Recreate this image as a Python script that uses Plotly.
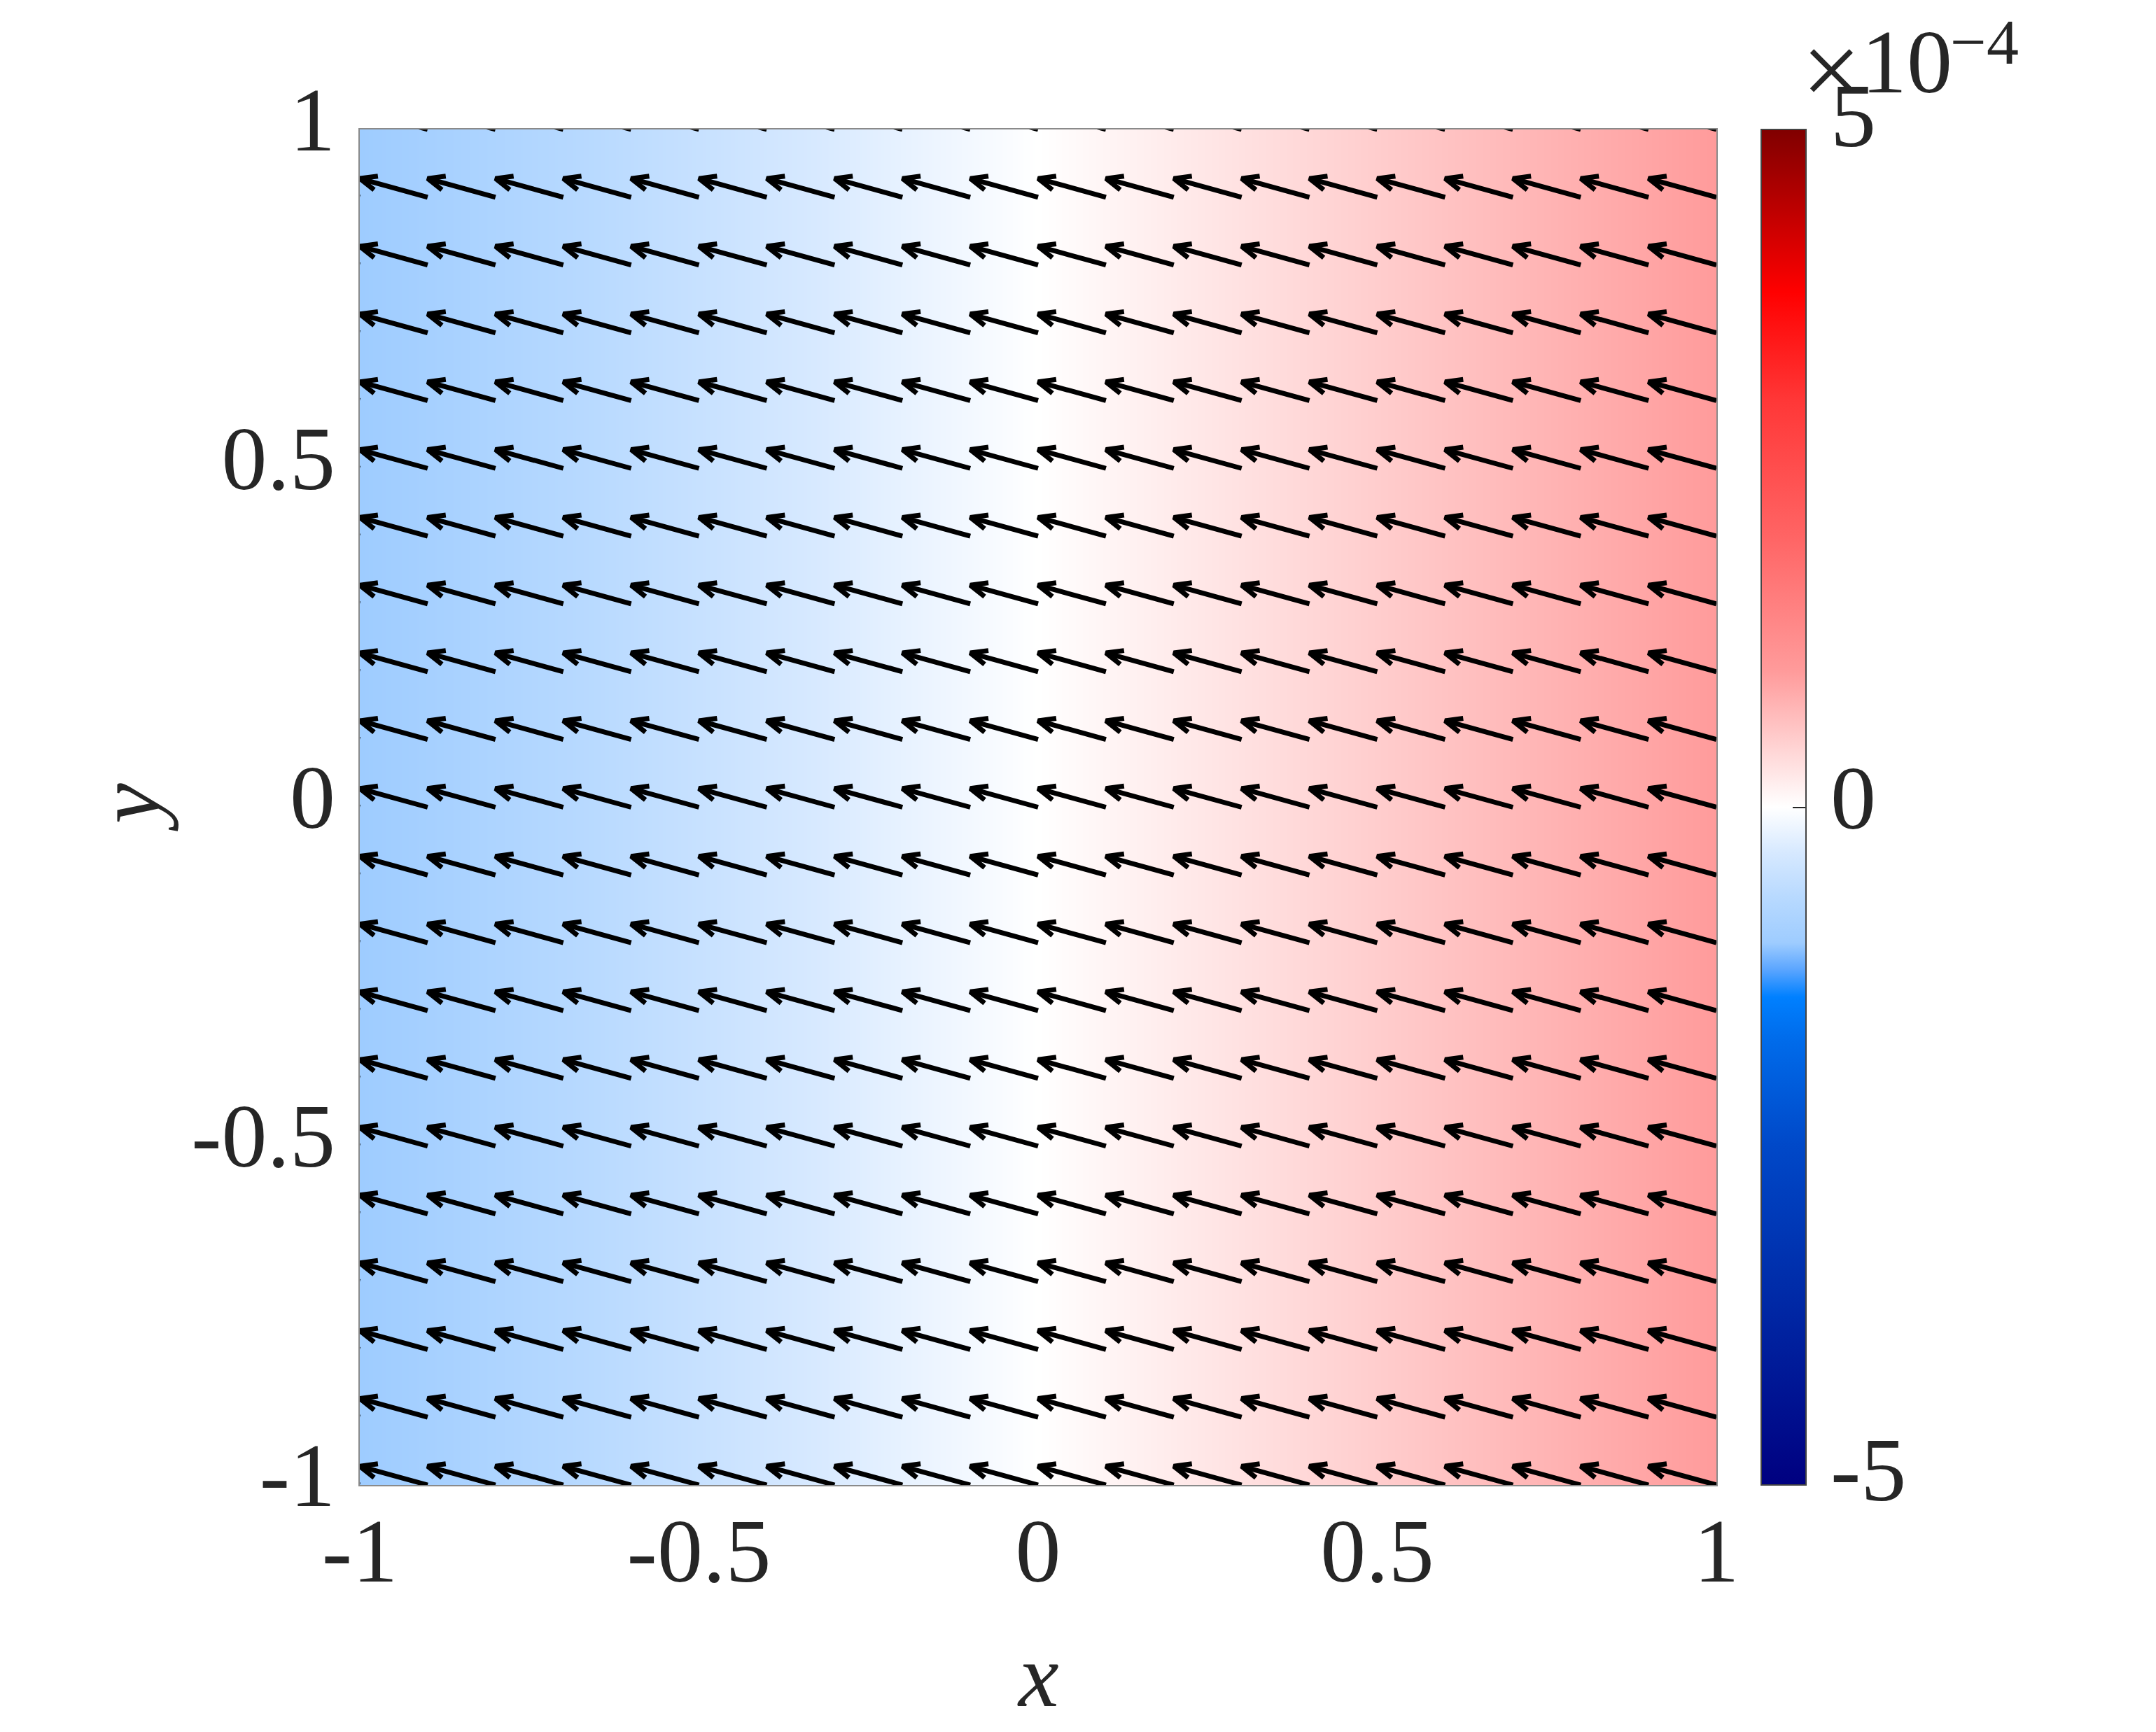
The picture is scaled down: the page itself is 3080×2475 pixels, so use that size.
import math
import plotly.graph_objects as go

# grid of the field / arrows
x_vals = [-1.0, -0.9, -0.8, -0.7, -0.6, -0.5, -0.4, -0.3, -0.2, -0.1, 0.0,
          0.1, 0.2, 0.3, 0.4, 0.5, 0.6, 0.7, 0.8, 0.9, 1.0]
y_vals = [-1.0, -0.9, -0.8, -0.7, -0.6, -0.5, -0.4, -0.3, -0.2, -0.1, 0.0,
          0.1, 0.2, 0.3, 0.4, 0.5, 0.6, 0.7, 0.8, 0.9, 1.0]

# background field along x (units 1e-4), same for every row
z_row = [-1.0, -0.9, -0.8, -0.7, -0.6, -0.5, -0.4, -0.3, -0.2, -0.1, 0.0,
         0.1, 0.2, 0.3, 0.4, 0.5, 0.6, 0.7, 0.8, 0.9, 1.0]

# arrow displacement (already scaled as drawn)
arrow_u = -0.100
arrow_v = 0.0276

cbar_ticks = [-5, 0, 5]
cbar_labels = ["-5", "0", "5"]

cscale = [
    [0.00, "rgb(0,0,128)"],
    [0.15, "rgb(0,45,170)"],
    [0.25, "rgb(0,72,200)"],
    [0.33, "rgb(0,108,235)"],
    [0.36, "rgb(0,128,255)"],
    [0.38, "rgb(90,165,255)"],
    [0.40, "rgb(158,204,255)"],
    [0.435, "rgb(185,218,255)"],
    [0.467, "rgb(215,233,255)"],
    [0.50, "rgb(255,255,255)"],
    [0.55, "rgb(255,205,205)"],
    [0.60, "rgb(255,155,155)"],
    [0.70, "rgb(255,100,100)"],
    [0.80, "rgb(255,55,55)"],
    [0.88, "rgb(255,0,0)"],
    [0.94, "rgb(190,0,0)"],
    [1.00, "rgb(128,0,0)"],
]

FONT = "Liberation Serif"
TXT = "#262626"
FS = 130

z = [[v * 1e-4 for v in z_row] for _ in y_vals]

fig = go.Figure()
fig.add_trace(go.Heatmap(
    x=x_vals, y=y_vals, z=z, zsmooth="best",
    zmin=-5e-4, zmax=5e-4, colorscale=cscale,
    colorbar=dict(
        x=1.033, xanchor="left", xpad=0, y=0.5, yanchor="middle", ypad=0,
        len=1, thickness=64, outlinewidth=2, outlinecolor="#444444",
        tickvals=[t * 1e-4 for t in cbar_ticks], showticklabels=False,
        ticks="inside", ticklen=20, tickwidth=2, tickcolor="#262626",
    ),
    hoverinfo="skip",
))

# quiver arrows: shaft plus two barbs
L = math.hypot(arrow_u, arrow_v)
head = 0.26 * L
ang = math.radians(23)
bx, by = -arrow_u / L, -arrow_v / L
ax_, ay_ = [], []
for y0 in y_vals:
    for x0 in x_vals:
        tx, ty = x0 + arrow_u, y0 + arrow_v
        b1x = tx + head * (bx * math.cos(ang) - by * math.sin(ang))
        b1y = ty + head * (bx * math.sin(ang) + by * math.cos(ang))
        b2x = tx + head * (bx * math.cos(-ang) - by * math.sin(-ang))
        b2y = ty + head * (bx * math.sin(-ang) + by * math.cos(-ang))
        ax_ += [x0, tx, None, b1x, tx, b2x, None]
        ay_ += [y0, ty, None, b1y, ty, b2y, None]

fig.add_trace(go.Scatter(x=ax_, y=ay_, mode="lines",
                         line=dict(color="black", width=7),
                         hoverinfo="skip", showlegend=False))

axis_common = dict(showgrid=False, zeroline=False, showline=True, mirror=True,
                   linecolor="#8a8a8a", linewidth=2, ticks="",
                   tickfont=dict(family=FONT, size=FS, color=TXT))

# colorbar labels placed by hand next to the bar
cbar_y = [0.0114, 0.507, 1.0104]
annos = [dict(text=lab, xref="paper", yref="paper", x=1.083, y=yy,
              showarrow=False, xanchor="left", yanchor="middle",
              font=dict(family=FONT, size=FS, color=TXT))
         for lab, yy in zip(cbar_labels, cbar_y)]

# axis titles
annos += [
    dict(text="<i>x</i>", xref="paper", yref="paper", x=0.5, y=-0.1405,
         showarrow=False, xanchor="center", yanchor="middle",
         font=dict(family=FONT, size=FS, color=TXT)),
    dict(text="<i>y</i>", xref="paper", yref="paper", x=-0.171, y=0.5,
         showarrow=False, xanchor="center", yanchor="middle", textangle=-90,
         font=dict(family=FONT, size=FS, color=TXT)),
]

# colorbar exponent  x10^-4
annos += [
    dict(text="×", xref="paper", yref="paper", x=1.0620, y=1.0440,
         showarrow=False, xanchor="left", yanchor="middle",
         font=dict(family=FONT, size=150, color=TXT)),
    dict(text="10", xref="paper", yref="paper", x=1.1058, y=1.050,
         showarrow=False, xanchor="left", yanchor="middle",
         font=dict(family=FONT, size=FS, color=TXT)),
    dict(text="−4", xref="paper", yref="paper", x=1.1713, y=1.0645,
         showarrow=False, xanchor="left", yanchor="middle",
         font=dict(family=FONT, size=92, color=TXT)),
]

fig.update_layout(
    width=3080, height=2475,
    margin=dict(l=506, r=636, t=177, b=361),
    paper_bgcolor="white", plot_bgcolor="white",
    showlegend=False,
    xaxis=dict(range=[-1, 1], tickvals=[-1, -0.5, 0, 0.5, 1],
               ticktext=["-1", "-0.5", "0", "0.5", "1"],
               ticklabelstandoff=-20, **axis_common),
    yaxis=dict(range=[-1, 1], tickvals=[-1, -0.5, 0, 0.5, 1],
               ticktext=["-1", "-0.5", "0", "0.5", "1"],
               ticklabelstandoff=7, ticklabelshift=-16, **axis_common),
    annotations=annos,
)

fig.write_html("out.html")
